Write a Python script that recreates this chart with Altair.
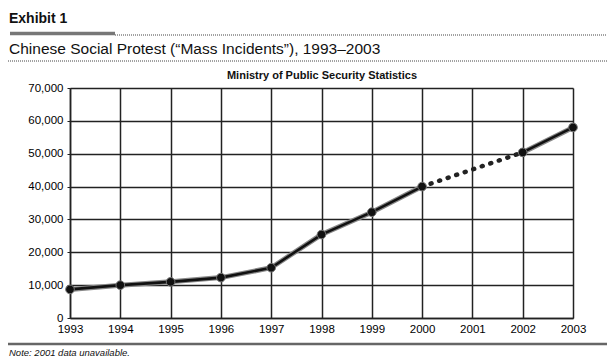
import altair as alt
import pandas as pd

years = [1993, 1994, 1995, 1996, 1997, 1998, 1999, 2000, 2002, 2003]
incidents = [8700, 10000, 11000, 12300, 15300, 25400, 32200, 40000, 50400, 58000]
x_ticks = list(range(1993, 2004))
y_ticks = [0, 10000, 20000, 30000, 40000, 50000, 60000, 70000]

header = "Exhibit 1"
subtitle = "Chinese Social Protest (\u201cMass Incidents\u201d), 1993\u20132003"
chart_title = "Ministry of Public Security Statistics"
note = "Note: 2001 data unavailable."

df = pd.DataFrame({"year": years, "value": incidents})

# segments: solid before gap, dotted across missing 2001, solid after
rows = []
for y, v in zip(years, incidents):
    if y <= 2000:
        rows.append({"year": y, "value": v, "seg": "a"})
    if y >= 2002:
        rows.append({"year": y, "value": v, "seg": "c"})
    if y in (2000, 2002):
        rows.append({"year": y, "value": v, "seg": "b"})
seg_df = pd.DataFrame(rows)

W, H = 503, 230
FONT = "Liberation Sans"

xenc = alt.X("year:Q", scale=alt.Scale(domain=[1993, 2003], nice=False),
             axis=alt.Axis(values=x_ticks, format="d", title=None, labelFontSize=11.5,
                           labelColor="#000", labelFont=FONT, tickSize=0, labelPadding=5,
                           grid=True, gridColor="#222", gridWidth=1.5,
                           domainColor="#222", domainWidth=1.5, labelFlush=False))
yenc = alt.Y("value:Q", scale=alt.Scale(domain=[0, 70000], nice=False),
             axis=alt.Axis(values=y_ticks, format=",d", title=None, labelFontSize=11.5,
                           labelColor="#000", labelFont=FONT, tickSize=3, tickColor="#222",
                           labelPadding=4, grid=True, gridColor="#222", gridWidth=1.5,
                           domainColor="#222", domainWidth=1.5))

halo = alt.Chart(seg_df).transform_filter("datum.seg != 'b'").mark_line(
    color="#888", strokeWidth=5).encode(x=xenc, y=yenc, detail="seg:N")
solid = alt.Chart(seg_df).transform_filter("datum.seg != 'b'").mark_line(
    color="#111", strokeWidth=2.6).encode(x=xenc, y=yenc, detail="seg:N")
dotted = alt.Chart(seg_df).transform_filter("datum.seg == 'b'").mark_line(
    color="#222", strokeWidth=4.5, strokeDash=[1, 8], strokeCap="round").encode(
    x=xenc, y=yenc)
pts = alt.Chart(df).mark_point(filled=True, color="#111", size=75, opacity=1, shape="circle",
                               stroke="#777", strokeWidth=1).encode(x=xenc, y=yenc)

one = pd.DataFrame({"a": [0]})
# page coords -> chart coords: (px-70, py-88)
def txt(s, px, py, size, weight="normal", style="normal", align="left"):
    return alt.Chart(one).mark_text(text=s, fontSize=size, fontWeight=weight, fontStyle=style,
                                    font=FONT, align=align, baseline="alphabetic", color="#111").encode(
        x=alt.value(px - 70), y=alt.value(py - 88))

def rule(px1, px2, py, color, width, dash=None):
    kw = dict(color=color, strokeWidth=width)
    if dash:
        kw["strokeDash"] = dash
    return alt.Chart(one).mark_rule(**kw).encode(
        x=alt.value(px1 - 70), x2=alt.value(px2 - 70), y=alt.value(py - 88))

layers = [
    halo, solid, dotted, pts,
    txt(header, 9, 23, 14, weight="bold"),
    rule(10, 115, 33.5, "#777", 3.5),
    rule(115, 607, 35, "#444", 1, [1, 1]),
    txt(subtitle, 9, 54, 15.5),
    rule(8, 607, 61, "#444", 1, [1, 1]),
    txt(chart_title, 322, 79, 11, weight="bold", align="center"),
    rule(8, 607, 344, "#666", 2.5),
    txt(note, 9, 356, 9.5, style="italic"),
]

chart = alt.layer(*layers).properties(
    width=W, height=H,
    autosize=alt.AutoSizeParams(type="none"),
    padding={"left": 62, "top": 80, "right": 34, "bottom": 42},
).configure_view(stroke=None).configure(background="white")

chart.save("out.html", embed_options={"renderer": "svg", "actions": False})
